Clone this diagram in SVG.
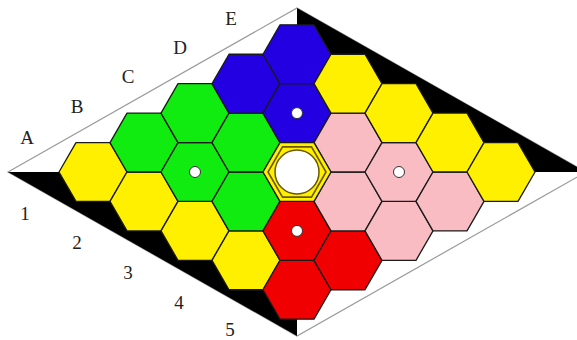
<svg xmlns="http://www.w3.org/2000/svg" xmlns:xlink="http://www.w3.org/1999/xlink" width="577" height="340" viewBox="0 0 577 340">
<style>
.cell{stroke:#1a1a1a;stroke-width:1.3;stroke-linejoin:round}
.y{fill:#fff000}.b{fill:#2200e2}.g{fill:#10ec10}.p{fill:#f9bcc3}.r{fill:#f00000}
.dot{fill:#ffffff;stroke:#333;stroke-width:1}
.lbl{font-family:"Liberation Serif","DejaVu Serif",serif;font-size:19px;fill:#222;text-anchor:middle}
.edge{fill:none;stroke:#9a9a9a;stroke-width:1.2}
.blk{fill:#000}
</style>
<defs>
<path id="hex" d="M34,0 L17,29.44 L-17,29.44 L-34,0 L-17,-29.44 L17,-29.44 Z"/>
</defs>
<rect width="577" height="340" fill="#fff"/>
<g id="board">
<polygon class="edge" points="8,172 297,8 586,172 297,336"/>
<polygon class="blk" points="297,8 586,172 501,172 297,54"/>
<polygon class="blk" points="8,172 297,336 297,290 93,172"/>
</g>
<g id="connectors"></g>
<g id="A1"><use xlink:href="#hex" class="cell y" transform="translate(93,172)"/></g>
<g id="A2"><use xlink:href="#hex" class="cell y" transform="translate(144,201.44)"/></g>
<g id="A3"><use xlink:href="#hex" class="cell y" transform="translate(195,230.88)"/></g>
<g id="A4"><use xlink:href="#hex" class="cell y" transform="translate(246,260.32)"/></g>
<g id="A5"><use xlink:href="#hex" class="cell r" transform="translate(297,289.76)"/></g>
<g id="B1"><use xlink:href="#hex" class="cell g" transform="translate(144,142.56)"/></g>
<g id="B2"><use xlink:href="#hex" class="cell g" transform="translate(195,172)"/><circle class="dot" cx="195" cy="172" r="5.5"/></g>
<g id="B3"><use xlink:href="#hex" class="cell g" transform="translate(246,201.44)"/></g>
<g id="B4"><use xlink:href="#hex" class="cell r" transform="translate(297,230.88)"/><circle class="dot" cx="297" cy="230.88" r="5.5"/></g>
<g id="B5"><use xlink:href="#hex" class="cell r" transform="translate(348,260.32)"/></g>
<g id="C1"><use xlink:href="#hex" class="cell g" transform="translate(195,113.12)"/></g>
<g id="C2"><use xlink:href="#hex" class="cell g" transform="translate(246,142.56)"/></g>
<g id="C4"><use xlink:href="#hex" class="cell p" transform="translate(348,201.44)"/></g>
<g id="C5"><use xlink:href="#hex" class="cell p" transform="translate(399,230.88)"/></g>
<g id="D1"><use xlink:href="#hex" class="cell b" transform="translate(246,83.68)"/></g>
<g id="D2"><use xlink:href="#hex" class="cell b" transform="translate(297,113.12)"/><circle class="dot" cx="297" cy="113.12" r="5.5"/></g>
<g id="D3"><use xlink:href="#hex" class="cell p" transform="translate(348,142.56)"/></g>
<g id="D4"><use xlink:href="#hex" class="cell p" transform="translate(399,172)"/><circle class="dot" cx="399" cy="172" r="5.5"/></g>
<g id="D5"><use xlink:href="#hex" class="cell p" transform="translate(450,201.44)"/></g>
<g id="E1"><use xlink:href="#hex" class="cell b" transform="translate(297,54.24)"/></g>
<g id="E2"><use xlink:href="#hex" class="cell y" transform="translate(348,83.68)"/></g>
<g id="E3"><use xlink:href="#hex" class="cell y" transform="translate(399,113.12)"/></g>
<g id="E4"><use xlink:href="#hex" class="cell y" transform="translate(450,142.56)"/></g>
<g id="E5"><use xlink:href="#hex" class="cell y" transform="translate(501,172)"/></g>
<g id="C3">
<use xlink:href="#hex" class="cell y" transform="translate(297,172)"/>
<path d="M29,0 L14.5,25.1 L-14.5,25.1 L-29,0 L-14.5,-25.1 L14.5,-25.1 Z" transform="translate(297,172)" fill="none" stroke="#6b5800" stroke-width="1.6"/>
<circle cx="297" cy="172" r="22" fill="#fff" stroke="#6b5800" stroke-width="1.5"/>
</g>
<g id="labels">
<text class="lbl" x="27" y="144">A</text>
<text class="lbl" x="77" y="113">B</text>
<text class="lbl" x="128" y="83">C</text>
<text class="lbl" x="180" y="54">D</text>
<text class="lbl" x="231" y="25">E</text>
<text class="lbl" x="25" y="220">1</text>
<text class="lbl" x="77" y="249">2</text>
<text class="lbl" x="128" y="279">3</text>
<text class="lbl" x="179" y="309">4</text>
<text class="lbl" x="230" y="336">5</text>
</g>
</svg>
